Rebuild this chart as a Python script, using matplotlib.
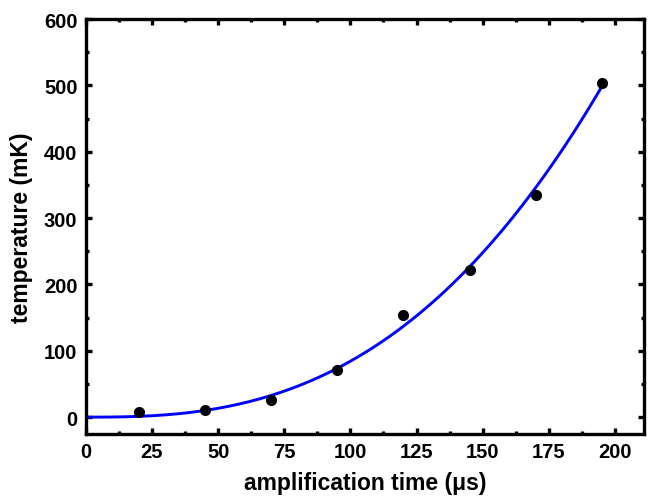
import numpy as np
import matplotlib
matplotlib.use("Agg")
import matplotlib.pyplot as plt
from matplotlib.ticker import MultipleLocator

plt.rcParams['font.family'] = ['Liberation Sans', 'DejaVu Sans']
plt.rcParams['font.weight'] = 'bold'

# measured points
amp_time = [20, 45, 70, 95, 120, 145, 170, 195]
temperature = [7.5, 10.5, 25.5, 71, 154, 222, 335, 504]


def power_fit(t, y):
    # least squares a * t**b, scanning b
    t = np.asarray(t, float)
    y = np.asarray(y, float)
    best = None
    for b in np.arange(1.5, 4.0, 0.01):
        tb = t ** b
        a = np.sum(y * tb) / np.sum(tb * tb)
        err = np.sum((y - a * tb) ** 2)
        if best is None or err < best[2]:
            best = (a, b, err)
    return best[0], best[1]


def main():
    a, b = power_fit(amp_time, temperature)
    t_fit = np.linspace(0, max(amp_time), 200)
    y_fit = a * t_fit ** b

    fig = plt.figure(figsize=(6.5, 5.02), dpi=100)
    ax = fig.add_axes([0.132, 0.134, 0.859, 0.826])

    ax.plot(t_fit, y_fit, color="#0000ff", lw=2.1, zorder=2)
    ax.plot(amp_time, temperature, "o", color="black", ms=7, zorder=3)

    ax.set_xlim(0, 211)
    ax.set_ylim(-25, 600)
    ax.xaxis.set_major_locator(MultipleLocator(25))
    ax.xaxis.set_minor_locator(MultipleLocator(12.5))
    ax.yaxis.set_major_locator(MultipleLocator(100))
    ax.yaxis.set_minor_locator(MultipleLocator(50))

    for s in ax.spines.values():
        s.set_linewidth(2.4)
    ax.tick_params(which="both", direction="in", top=True, right=True,
                   width=2.4, labelsize=14.5)
    ax.tick_params(which="major", length=4, pad=6)
    ax.tick_params(which="minor", length=2.5)
    for lab in ax.get_xticklabels() + ax.get_yticklabels():
        lab.set_fontweight("bold")

    ax.set_xlabel("amplification time (\u03bcs)", fontsize=16.5, fontweight="bold", labelpad=7)
    ax.set_ylabel("temperature (mK)", fontsize=16.5, fontweight="bold", labelpad=8)

    fig.savefig("out.png", dpi=100)


if __name__ == '__main__':
    main()
